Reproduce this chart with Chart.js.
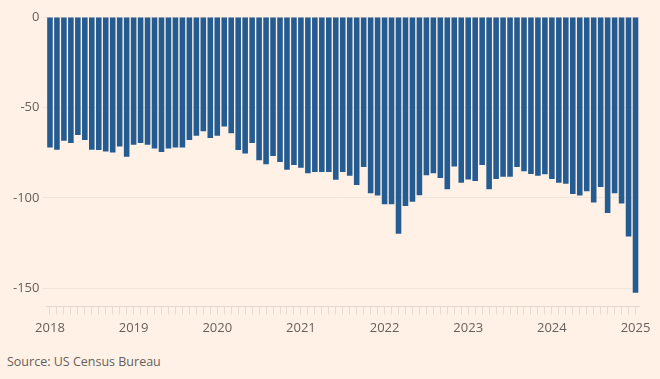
<!DOCTYPE html>
<html>
<head>
<meta charset="utf-8">
<script src="https://cdn.jsdelivr.net/npm/chart.js@4"></script>
<style>
  html, body { margin: 0; padding: 0; background: #fff1e5; }
  #wrap { position: absolute; left: 0; top: 0; width: 660px; height: 342px; }
  #source { position: absolute; left: 7px; top: 353px; font: 12.5px "Open Sans", sans-serif; color: #66605c; }
</style>
</head>
<body>
<div id="wrap"><canvas id="chart"></canvas></div>
<div id="source">Source: US Census Bureau</div>
<script>
// monthly goods trade balance, $bn, Jan 2018 .. Jan 2025
const years = ["2018", "2019", "2020", "2021", "2022", "2023", "2024", "2025"];
const balance2018 = [-72.1, -73.4, -68.4, -69.7, -65.2, -68.0, -73.4, -73.6, -74.3, -74.9, -71.6, -77.3];
const balance2019 = [-70.6, -69.7, -70.6, -72.7, -74.7, -72.7, -72.1, -72.1, -68.0, -65.6, -63.2, -66.9];
const balance2020 = [-65.6, -60.6, -64.3, -73.6, -75.5, -69.7, -79.2, -81.4, -76.8, -80.1, -84.4, -81.8];
const balance2021 = [-83.3, -86.4, -85.7, -85.7, -85.7, -90.0, -85.7, -87.7, -92.9, -82.9, -97.4, -98.7];
const balance2022 = [-103.5, -103.5, -119.8, -104.5, -102.2, -98.5, -87.5, -86.4, -89.0, -95.3, -82.7, -91.6];
const balance2023 = [-89.8, -90.7, -81.8, -95.3, -89.6, -88.3, -88.3, -82.9, -85.3, -86.8, -87.7, -87.0];
const balance2024 = [-89.6, -91.6, -92.2, -97.8, -98.7, -96.4, -102.6, -94.0, -108.4, -97.4, -103.1, -121.3];
const balance2025 = [-152.4];
const yTicks = [-150, -100, -50, 0];

const values = [].concat(balance2018, balance2019, balance2020, balance2021,
  balance2022, balance2023, balance2024, balance2025);
const labels = [];
years.forEach(y => {
  for (let m = 1; m <= 12; m++) labels.push(y + "-" + String(m).padStart(2, "0"));
});
labels.length = values.length;

const textColor = "#66605c";
const font = { family: "'Open Sans', sans-serif", size: 13 };

new Chart(document.getElementById("chart"), {
  type: "bar",
  data: {
    labels: labels,
    datasets: [{
      data: values,
      backgroundColor: "#245b91",
      barPercentage: 0.8,
      categoryPercentage: 1.0
    }]
  },
  options: {
    responsive: true,
    maintainAspectRatio: false,
    animation: false,
    layout: { padding: { top: 17, left: 10, right: 21, bottom: 0 } },
    plugins: { legend: { display: false }, tooltip: { enabled: false } },
    scales: {
      x: {
        grid: {
          offset: false,
          drawOnChartArea: false,
          tickLength: 8,
          tickColor: "#e6dbd0"
        },
        border: { color: "#e2d8ce" },
        ticks: {
          autoSkip: false,
          maxRotation: 0,
          padding: 6,
          color: textColor,
          font: font,
          callback: function(v) {
            const l = this.getLabelForValue(v);
            return l.endsWith("-01") ? l.slice(0, 4) : "";
          }
        }
      },
      y: {
        min: -160,
        max: 0,
        afterBuildTicks: axis => { axis.ticks = yTicks.map(v => ({ value: v })); },
        grid: { color: "#f1e5da", tickLength: 4, tickColor: "#f1e5da" },
        border: { display: false },
        ticks: { padding: 3, color: textColor, font: font }
      }
    }
  }
});
</script>
</body>
</html>
